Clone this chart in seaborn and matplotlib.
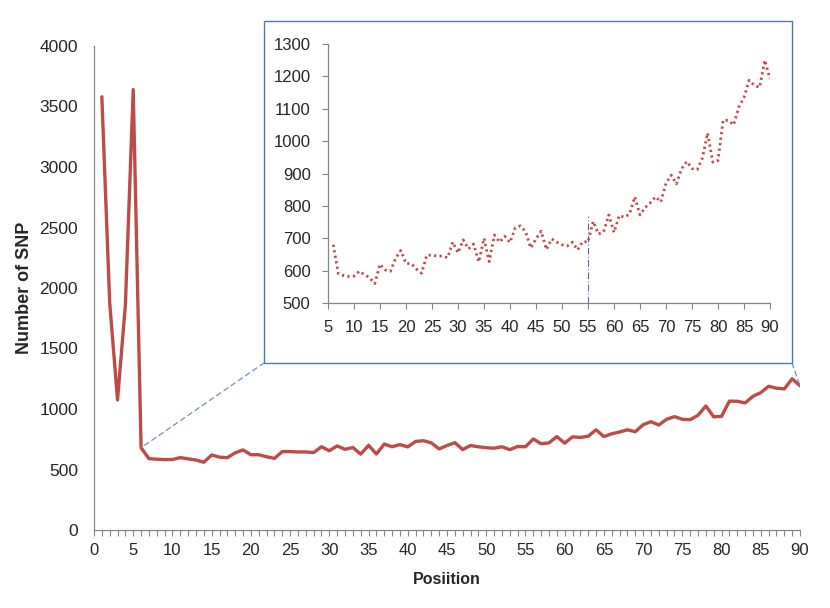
import numpy as np
import pandas as pd
import matplotlib
matplotlib.use("Agg")
import matplotlib.pyplot as plt
import seaborn as sns
from matplotlib.patches import Rectangle, ConnectionPatch

# ---- data ----
positions = list(range(1, 91))
snp_counts = [
    3580, 1880, 1075, 1860, 3640, 680, 590, 585, 582, 583,
    598, 588, 578, 560, 620, 602, 598, 638, 662, 622,
    622, 605, 592, 648, 648, 645, 645, 640, 688, 655,
    695, 667, 682, 627, 700, 628, 710, 688, 706, 687,
    732, 738, 720, 670, 698, 722, 665, 698, 688, 680,
    676, 688, 664, 690, 688, 752, 713, 720, 772, 718,
    770, 765, 775, 828, 772, 795, 810, 828, 812, 870,
    895, 868, 915, 937, 915, 912, 948, 1025, 935, 940,
    1065, 1064, 1050, 1105, 1135, 1188, 1172, 1166, 1250, 1192,
]
main_xticks = list(range(0, 91, 5))
main_yticks = list(range(0, 4001, 500))
inset_start = 6
inset_xticks = list(range(5, 91, 5))
inset_yticks = list(range(500, 1301, 100))
marker_pos = 55
marker_top = 770

df = pd.DataFrame({"Position": positions, "SNP": snp_counts})
df_in = df[df["Position"] >= inset_start]

sns.set_style("white")
plt.rcParams["font.family"] = ["Liberation Sans", "DejaVu Sans"]

W, H = 830, 608
fig = plt.figure(figsize=(W / 100, H / 100), dpi=100)

RED = "#be4b48"
GRAY = "#868686"
BLUE = "#4a7ab0"

def fx(px):
    return px / W

def fy(py):
    return 1 - py / H

# main axes
ax = fig.add_axes([fx(94), fy(530), fx(800) - fx(94), fy(46) - fy(530)])
sns.lineplot(data=df, x="Position", y="SNP", ax=ax, color=RED, linewidth=2.4)
ax.set_xlim(0, 90)
ax.set_ylim(0, 4000)
ax.set_xticks(main_xticks)
ax.set_xticks(positions, minor=True)
ax.set_yticks(main_yticks)
for s in ["top", "right"]:
    ax.spines[s].set_visible(False)
for s in ["left", "bottom"]:
    ax.spines[s].set_color(GRAY)
    ax.spines[s].set_linewidth(0.9)
ax.tick_params(axis="x", which="both", direction="out", length=4.5, width=0.8,
               color=GRAY, bottom=True, labelsize=12, pad=5)
ax.tick_params(axis="y", length=0, labelsize=12.5, pad=11.5)
ax.set_xlabel("Posiition", fontsize=11.5, fontweight="bold")
ax.set_ylabel("Number of SNP", fontsize=13, fontweight="bold")
ax.xaxis.set_label_coords(0.5, -0.086)
ax.yaxis.set_label_coords(-0.087, 0.5)
ax.grid(False)

# inset frame
box_l, box_t, box_r, box_b = 264, 21, 792, 363
fig.patches.append(Rectangle((fx(box_l), fy(box_b)), fx(box_r) - fx(box_l),
                             fy(box_t) - fy(box_b), transform=fig.transFigure,
                             fill=True, facecolor="white", edgecolor=BLUE,
                             linewidth=1.0, zorder=2))

# connectors
for (bx, by), px in [((box_l, box_b), inset_start), ((box_r, box_b), positions[-1])]:
    val = snp_counts[positions.index(px)]
    con = ConnectionPatch(xyA=(fx(bx), fy(by)), coordsA=fig.transFigure,
                          xyB=(px, val), coordsB=ax.transData,
                          color="#6f8fc0", linewidth=0.9, linestyle=(0, (4, 3)))
    fig.add_artist(con)

# inset axes
axi = fig.add_axes([fx(328), fy(303), fx(770) - fx(328), fy(44) - fy(303)], zorder=3)
axi.patch.set_alpha(0)
sns.lineplot(data=df_in, x="Position", y="SNP", ax=axi, color=RED, linewidth=2.0,
             linestyle=(0, (0.8, 1.2)), dash_capstyle="butt")
axi.vlines(marker_pos, 500, marker_top, color="#4a6fa5", linewidth=0.8,
           linestyles=(0, (6, 2, 1, 2)))
axi.set_xlim(5, 90)
axi.set_ylim(500, 1300)
axi.set_xticks(inset_xticks)
axi.set_yticks(inset_yticks)
for s in ["top", "right"]:
    axi.spines[s].set_visible(False)
for s in ["left", "bottom"]:
    axi.spines[s].set_color(GRAY)
    axi.spines[s].set_linewidth(0.9)
axi.tick_params(axis="both", direction="out", length=4.5, width=0.8, color=GRAY,
                labelsize=12, left=True, bottom=True)
axi.tick_params(axis="x", pad=8)
axi.tick_params(axis="y", pad=8)
axi.set_xlabel("")
axi.set_ylabel("")
axi.grid(False)

fig.savefig("out.png", dpi=100)
